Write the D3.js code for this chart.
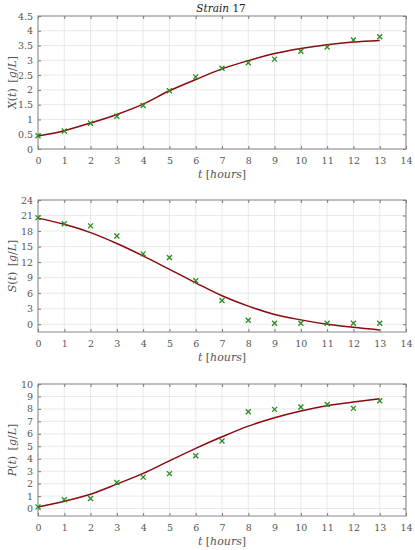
<!DOCTYPE html>
<html>
<head>
<meta charset="utf-8">
<script src="https://cdn.jsdelivr.net/npm/d3@7"></script>
<style>
  body { margin: 0; background: #fff; }
</style>
</head>
<body>
<div id="chart"></div>
<script>
// time points (hours)
const hours = [0, 1, 2, 3, 4, 5, 6, 7, 8, 9, 10, 11, 12, 13];
const xTicks = [0, 1, 2, 3, 4, 5, 6, 7, 8, 9, 10, 11, 12, 13, 14];

// biomass X(t)
const xMeasured = [0.45, 0.61, 0.87, 1.11, 1.47, 1.97, 2.44, 2.73, 2.92, 3.04, 3.31, 3.45, 3.69, 3.80];
const xModel = [0.44, 0.62, 0.88, 1.17, 1.52, 1.97, 2.35, 2.71, 2.99, 3.23, 3.40, 3.53, 3.62, 3.67];
const xYTicks = [0, 0.5, 1, 1.5, 2, 2.5, 3, 3.5, 4, 4.5];

// substrate S(t)
const sMeasured = [20.6, 19.4, 19.0, 17.05, 13.6, 12.9, 8.4, 4.57, 0.77, 0.19, 0.2, 0.2, 0.2, 0.2];
const sModel = [20.5, 19.3, 17.7, 15.6, 13.2, 10.6, 8.0, 5.5, 3.5, 1.9, 0.84, 0.0, -0.6, -1.1];
const sYTicks = [0, 3, 6, 9, 12, 15, 18, 21, 24];

// product P(t)
const pMeasured = [0.13, 0.7, 0.8, 2.09, 2.52, 2.8, 4.24, 5.42, 7.77, 7.96, 8.15, 8.36, 8.04, 8.66];
const pModel = [0.13, 0.59, 1.15, 1.96, 2.82, 3.83, 4.83, 5.76, 6.62, 7.29, 7.83, 8.26, 8.55, 8.82];
const pYTicks = [0, 1, 2, 3, 4, 5, 6, 7, 8, 9, 10];

const W = 415, H = 550;
const left = 38, right = 406;
const serif = "DejaVu Serif";

const panels = [
    {top: 16, bottom: 149, domain: [0, 4.5], ticks: xYTicks, measured: xMeasured, model: xModel, name: "X", title: true},
    {top: 200, bottom: 332, domain: [-1.5, 24], ticks: sYTicks, measured: sMeasured, model: sModel, name: "S"},
    {top: 384, bottom: 516, domain: [-0.6, 10], ticks: pYTicks, measured: pMeasured, model: pModel, name: "P"}
];

const svg = d3.select("#chart").append("svg")
    .attr("width", W)
    .attr("height", H)
    .attr("font-family", serif);

const x = d3.scaleLinear().domain([0, 14]).range([left, right]);

panels.forEach(p => {
    const y = d3.scaleLinear().domain(p.domain).range([p.bottom, p.top]);
    const g = svg.append("g");

    // grid
    g.append("g")
        .selectAll("line")
        .data(xTicks)
        .join("line")
        .attr("x1", d => x(d)).attr("x2", d => x(d))
        .attr("y1", p.top).attr("y2", p.bottom)
        .attr("stroke", "#e3e3e3").attr("stroke-width", 0.8);
    g.append("g")
        .selectAll("line")
        .data(p.ticks)
        .join("line")
        .attr("x1", left).attr("x2", right)
        .attr("y1", d => y(d)).attr("y2", d => y(d))
        .attr("stroke", "#e3e3e3").attr("stroke-width", 0.8);

    // axes with inward ticks on all sides
    const axisStyle = sel => {
        sel.attr("font-family", serif);
        sel.select(".domain").remove();
        sel.selectAll(".tick line").attr("stroke", "#777");
        sel.selectAll(".tick text")
            .attr("fill", "#555")
            .style("font-family", serif)
            .style("font-size", "9.5px");
    };

    g.append("g")
        .attr("transform", `translate(0,${p.bottom})`)
        .call(d3.axisBottom(x).tickValues(xTicks).tickSize(-3).tickPadding(8).tickFormat(d3.format("d")))
        .call(axisStyle);
    g.append("g")
        .attr("transform", `translate(0,${p.top})`)
        .call(d3.axisTop(x).tickValues(xTicks).tickSize(-3).tickFormat(""))
        .call(axisStyle);
    g.append("g")
        .attr("transform", `translate(${left},0)`)
        .call(d3.axisLeft(y).tickValues(p.ticks).tickSize(-3).tickPadding(5).tickFormat(d => String(d)))
        .call(axisStyle);
    g.append("g")
        .attr("transform", `translate(${right},0)`)
        .call(d3.axisRight(y).tickValues(p.ticks).tickSize(-3).tickFormat(""))
        .call(axisStyle);

    // box
    g.append("rect")
        .attr("x", left).attr("y", p.top)
        .attr("width", right - left).attr("height", p.bottom - p.top)
        .attr("fill", "none").attr("stroke", "#888").attr("stroke-width", 1);

    // model curve
    const line = d3.line()
        .curve(d3.curveMonotoneX)
        .x((d, i) => x(hours[i]))
        .y(d => y(d));
    g.append("path")
        .attr("d", line(p.model))
        .attr("fill", "none")
        .attr("stroke", "#8b0a0f")
        .attr("stroke-width", 1.5);

    // measured points as crosses
    const s = 2.5;
    g.append("g")
        .selectAll("path")
        .data(p.measured)
        .join("path")
        .attr("d", (d, i) => {
            const cx = x(hours[i]), cy = y(d);
            return `M${cx - s},${cy - s}L${cx + s},${cy + s}M${cx - s},${cy + s}L${cx + s},${cy - s}`;
        })
        .attr("stroke", "#2b8a22")
        .attr("stroke-width", 1.3)
        .attr("fill", "none");

    // x label
    const xl = g.append("text")
        .attr("x", (left + right) / 2)
        .attr("y", p.bottom + 29)
        .attr("text-anchor", "middle")
        .attr("fill", "#555")
        .style("font-family", serif)
        .style("font-size", "11px");
    xl.append("tspan").style("font-style", "italic").text("t");
    xl.append("tspan").text(" [");
    xl.append("tspan").style("font-style", "italic").text("hours");
    xl.append("tspan").text("]");

    // y label
    const yl = g.append("text")
        .attr("transform", `translate(16,${(p.top + p.bottom) / 2}) rotate(-90)`)
        .attr("text-anchor", "middle")
        .attr("fill", "#555")
        .style("font-family", serif)
        .style("font-size", "11px");
    yl.append("tspan").style("font-style", "italic").text(p.name);
    yl.append("tspan").text("(");
    yl.append("tspan").style("font-style", "italic").text("t");
    yl.append("tspan").text(")\u2002[");
    yl.append("tspan").style("font-style", "italic").text("g");
    yl.append("tspan").text("/");
    yl.append("tspan").style("font-style", "italic").text("L");
    yl.append("tspan").text("]");

    if (p.title) {
        const t = g.append("text")
            .attr("x", 221)
            .attr("y", p.top - 4)
            .attr("text-anchor", "middle")
            .attr("fill", "#222")
            .style("font-family", serif)
            .style("font-size", "10.5px");
        t.append("tspan").style("font-style", "italic").text("Strain");
        t.append("tspan").text(" 17");
    }
});
</script>
</body>
</html>
